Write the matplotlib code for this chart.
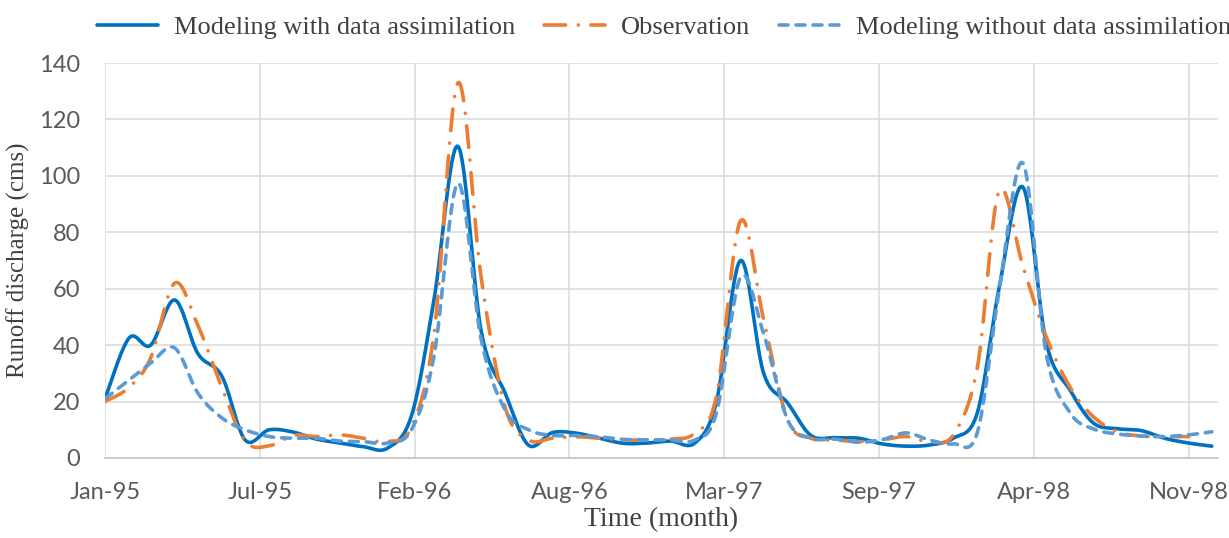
import numpy as np
import pandas as pd
import matplotlib
matplotlib.use("Agg")
import matplotlib.pyplot as plt
import matplotlib.dates as mdates

# ---------------- data ----------------
months = pd.date_range("1995-01-01", periods=48, freq="MS")

with_da = [21, 42.5, 40, 56, 37, 29, 6.4, 10, 9.2, 6.7, 5.3, 4,
           3.5, 15, 56, 110.5, 45, 23, 4.6, 9, 8.8, 7, 5.2, 5.3,
           6, 5.3, 20, 70, 30, 19.5, 8, 7.2, 7, 5, 4.2, 4.6,
           7, 16, 60, 96, 41, 24, 12.4, 10.4, 9.7, 7, 5.3, 4.2]

observation = [20, 25, 35.5, 62, 47, 25, 6, 4.3, 8, 7.6, 8.2, 7,
               5.8, 11, 44, 133, 64, 18, 6.4, 7, 7.5, 7, 6.4, 6.4,
               6.7, 8.8, 22, 84, 49, 13.5, 7, 6.4, 5.8, 6.4, 7.6, 5.8,
               8.2, 32, 94.5, 68, 43, 25, 14.6, 9.3, 7.8, 7.6, 7.6, np.nan]

without_da = [21, 27.6, 33.6, 39, 23, 14.2, 10, 7.6, 7, 7, 6, 5.8,
              5.3, 10, 36, 97.4, 42, 17, 10, 8, 8, 7.5, 6.6, 6.5,
              6.4, 6.4, 16, 64, 44, 13.5, 7, 6.7, 5.6, 6.5, 8.9, 6.4,
              5, 9, 59, 104.5, 37, 16, 10.3, 8.5, 7.8, 7.6, 8.2, 9.3]

series_names = ["Modeling with data assimilation", "Observation",
                "Modeling without data assimilation"]
y_ticks = [0, 20, 40, 60, 80, 100, 120, 140]


# ---------------- smoothing (Excel-like Catmull-Rom Bezier) ----------------
def smooth(x, y, n=24):
    x = np.asarray(x, float)
    y = np.asarray(y, float)
    m = ~np.isnan(y)
    x, y = x[m], y[m]
    P = np.column_stack([x, y])
    out = []
    N = len(P)
    t = np.linspace(0, 1, n)[:, None]
    for i in range(N - 1):
        p0 = P[i - 1] if i > 0 else P[i]
        p1 = P[i]
        p2 = P[i + 1]
        p3 = P[i + 2] if i + 2 < N else P[i + 1]
        c1 = p1 + (p2 - p0) / 6.0
        c2 = p2 - (p3 - p1) / 6.0
        seg = ((1 - t) ** 3) * p1 + 3 * ((1 - t) ** 2) * t * c1 + \
              3 * (1 - t) * t ** 2 * c2 + t ** 3 * p2
        if i > 0:
            seg = seg[1:]
        out.append(seg)
    out = np.vstack(out)
    return out[:, 0], out[:, 1]


xnum = mdates.date2num(months.to_pydatetime())
base = mdates.date2num(pd.Timestamp("1995-01-01").to_pydatetime())

W, H = 1229, 538
fig = plt.figure(figsize=(W / 100, H / 100), dpi=100)
ax = fig.add_axes([105 / W, 1 - 458 / H, (1218 - 105) / W, (458 - 63) / H])

lw = 2.6
c_with = "#0070C0"
c_obs = "#ED7D31"
c_wo = "#5B9BD5"

sx, sy = smooth(xnum, with_da)
l1, = ax.plot(sx, sy, color=c_with, lw=lw, solid_capstyle="round",
              label=series_names[0], zorder=3)
sx, sy = smooth(xnum, observation)
l2, = ax.plot(sx, sy, color=c_obs, lw=lw, dashes=(6, 3.5, 0.01, 3.5),
              dash_capstyle="round", label=series_names[1], zorder=4)
sx, sy = smooth(xnum, without_da)
l3, = ax.plot(sx, sy, color=c_wo, lw=lw, dashes=(2.5, 2.2),
              dash_capstyle="round", label=series_names[2], zorder=5)

ax.set_ylim(0, 140)
ax.set_yticks(y_ticks)
ax.set_xlim(base, base + 1438)
ax.set_xticks([base + 200 * k for k in range(8)])
ax.xaxis.set_major_formatter(mdates.DateFormatter("%b-%y"))

ax.grid(True, color="#D9D9D9", lw=1.1)
ax.set_axisbelow(True)
for s in ["top", "right", "left"]:
    ax.spines[s].set_visible(False)
ax.spines["bottom"].set_color("#BFBFBF")
ax.spines["bottom"].set_linewidth(1.1)

ax.tick_params(axis="both", length=0)
ax.tick_params(axis="y", pad=18)
ax.tick_params(axis="x", pad=17)
for lab in ax.get_xticklabels() + ax.get_yticklabels():
    lab.set_fontfamily(["Lato", "DejaVu Sans"])
    lab.set_fontsize(17)
    lab.set_color("#595959")

serif = ["Liberation Serif", "DejaVu Serif"]
ax.set_xlabel("Time (month)", fontfamily=serif, fontsize=20,
              color="#404040", labelpad=3)
ax.set_ylabel("Runoff discharge (cms)", fontfamily=serif, fontsize=18,
              color="#404040", labelpad=6)

leg = fig.legend(handles=[l1, l2, l3], loc="center",
                 bbox_to_anchor=(664 / W, 1 - 27 / H), ncol=3, frameon=False,
                 prop=dict(family=serif, size=19), handlelength=2.3,
                 handletextpad=0.6, columnspacing=1.1, borderaxespad=0)
for t in leg.get_texts():
    t.set_color("#404040")

fig.savefig("out.png", dpi=100)
